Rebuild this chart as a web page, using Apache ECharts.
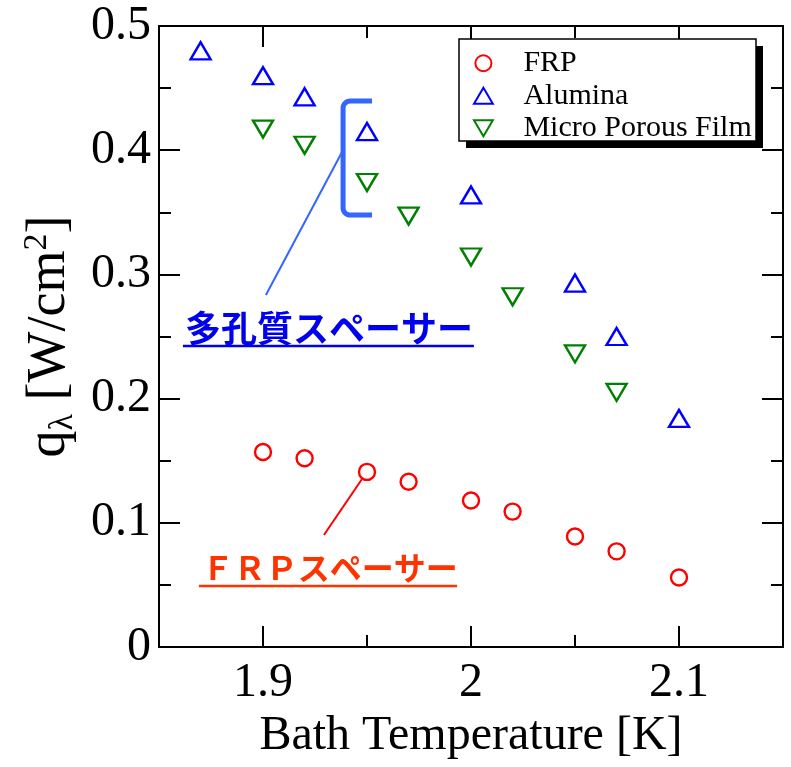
<!DOCTYPE html>
<html><head><meta charset="utf-8">
<script src="https://cdn.jsdelivr.net/npm/echarts@6/dist/echarts.min.js"></script>
<style>html,body{margin:0;padding:0;background:#fff}#c{width:791px;height:767px}</style>
</head><body><div id="c"></div>
<script>
// ---- data ----
const seriesNames = ['FRP', 'Alumina', 'Micro Porous Film'];
const frpT = [1.90, 1.92, 1.95, 1.97, 2.00, 2.02, 2.05, 2.07, 2.10];
const frpQ = [0.157, 0.152, 0.141, 0.133, 0.118, 0.109, 0.089, 0.077, 0.056];
const aluT = [1.87, 1.90, 1.92, 1.95, 2.00, 2.05, 2.07, 2.10];
const aluQ = [0.480, 0.460, 0.443, 0.415, 0.364, 0.293, 0.250, 0.184];
const mpfT = [1.90, 1.92, 1.95, 1.97, 2.00, 2.02, 2.05, 2.07];
const mpfQ = [0.417, 0.404, 0.374, 0.347, 0.314, 0.282, 0.236, 0.205];
const xMajorTicks = [1.9, 2.0, 2.1];
const xMinorTicks = [1.95, 2.05];
const xRange = [1.85, 2.15];
const yRange = [0, 0.5];
const yInterval = 0.1;
// annotation anchors (data coordinates)
const bracketT = [1.9524, 1.9385];
const bracketQ = [0.4396, 0.3478];
const blueLeader = [[1.9380, 0.3986], [1.9014, 0.2834]];
const redLeader = [[1.9293, 0.0902], [1.9476, 0.1353]];
const blueLabel = {text: '多孔質スペーサー', at: [1.8625, 0.2568], line: [1.8615, 2.0014, 0.2424]};
const redLabel = {text: 'ＦＲＰスペーサー', at: [1.8705, 0.0636], line: [1.8692, 1.9933, 0.0491]};

const serif = '"Liberation Serif", "Times New Roman", serif';
const FS = 48;
const black = '#000';
const downTri = 'path://M0,0 L20,0 L10,17 Z';
const upTri = 'path://M10,0 L20,17 L0,17 Z';

function zip(a, b) { return a.map((v, i) => [v, b[i]]); }

function xAxisDef(pos, ticks, len, main) {
  return {
    type: 'value', position: pos, min: xRange[0], max: xRange[1],
    axisLine: {show: main, onZero: false, lineStyle: {color: black, width: 2}},
    axisTick: {show: true, inside: true, length: len, customValues: ticks, lineStyle: {color: black, width: 2}},
    axisLabel: {show: main && pos === 'bottom', customValues: xMajorTicks, margin: 12, color: black,
      fontFamily: serif, fontSize: FS, formatter: v => String(Math.round(v * 10) / 10)},
    splitLine: {show: false},
    name: main && pos === 'bottom' ? 'Bath Temperature [K]' : '',
    nameLocation: 'middle', nameGap: 62,
    nameTextStyle: {fontFamily: serif, fontSize: FS, color: black}
  };
}
function yAxisDef(pos) {
  const left = pos === 'left';
  return {
    type: 'value', position: pos, min: yRange[0], max: yRange[1], interval: yInterval,
    axisLine: {show: true, onZero: false, lineStyle: {color: black, width: 2}},
    axisTick: {show: true, inside: true, length: 21, lineStyle: {color: black, width: 2}},
    minorTick: {show: true, splitNumber: 2, length: 12, lineStyle: {color: black, width: 2}},
    axisLabel: {show: left, margin: 8, color: black, fontFamily: serif, fontSize: FS,
      formatter: v => String(Math.round(v * 10) / 10)},
    splitLine: {show: false},
    name: left ? '{a|q}{s|λ}{a| [W/cm}{p|2}{a|]}' : '',
    nameLocation: 'middle', nameRotate: 90, nameGap: 79,
    nameTextStyle: {fontFamily: serif, fontSize: 54, color: black,
      rich: {
        a: {fontFamily: serif, fontSize: 54, color: black, lineHeight: 60},
        s: {fontFamily: serif, fontSize: 34, color: black, verticalAlign: 'bottom'},
        p: {fontFamily: serif, fontSize: 34, color: black, verticalAlign: 'top'}
      }}
  };
}

const mk = c => ({color: 'rgba(255,255,255,0)', borderColor: c, borderWidth: 2.4, opacity: 1});
const chart = echarts.init(document.getElementById('c'), null, {renderer: 'canvas'});
const option = {
  animation: false,
  backgroundColor: '#fff',
  grid: {left: 159, top: 26, right: 8, bottom: 120, containLabel: false, outerBoundsMode: 'none'},
  xAxis: [
    xAxisDef('bottom', xMajorTicks, 21, true),
    xAxisDef('bottom', xMinorTicks, 12, false),
    xAxisDef('top', xMajorTicks, 21, true),
    xAxisDef('top', xMinorTicks, 12, false)
  ],
  yAxis: [yAxisDef('left'), yAxisDef('right')],
  legend: {
    orient: 'vertical', left: 459, top: 39, z: 20,
    padding: [8, 5, 2, 14], itemGap: 0, itemWidth: 20, itemHeight: 16,
    textStyle: {fontFamily: serif, fontSize: 30, color: black, lineHeight: 32.5, padding: [0, 0, 0, 25]},
    data: seriesNames
  },
  series: [
    {name: seriesNames[0], type: 'scatter', symbol: 'circle', symbolSize: 16,
      itemStyle: mk('#ff0000'), data: zip(frpT, frpQ)},
    {name: seriesNames[1], type: 'scatter', symbol: upTri, symbolSize: [20, 17],
      itemStyle: mk('#0000ff'), data: zip(aluT, aluQ)},
    {name: seriesNames[2], type: 'scatter', symbol: downTri, symbolSize: [20, 17],
      itemStyle: mk('#008000'), data: zip(mpfT, mpfQ)}
  ]
};
chart.setOption(option);

function px(p) { return chart.convertToPixel({xAxisIndex: 0, yAxisIndex: 0}, p); }
const bTR = px([bracketT[0], bracketQ[0]]), bTL = px([bracketT[1], bracketQ[0]]);
const bBL = px([bracketT[1], bracketQ[1]]), bBR = px([bracketT[0], bracketQ[1]]);
const r = 7;
const bracketPts = [bTR];
for (let k = 0; k <= 8; k++) { const a = -Math.PI / 2 - k * Math.PI / 16; bracketPts.push([bTL[0] + r + r * Math.cos(a), bTL[1] + r + r * Math.sin(a)]); }
for (let k = 0; k <= 8; k++) { const a = Math.PI - k * Math.PI / 16; bracketPts.push([bBL[0] + r + r * Math.cos(a), bBL[1] - r + r * Math.sin(a)]); }
bracketPts.push(bBR);
const bl0 = px(blueLeader[0]), bl1 = px(blueLeader[1]);
const rl0 = px(redLeader[0]), rl1 = px(redLeader[1]);
const bt = px(blueLabel.at), btl0 = px([blueLabel.line[0], blueLabel.line[2]]), btl1 = px([blueLabel.line[1], blueLabel.line[2]]);
const rt = px(redLabel.at), rtl0 = px([redLabel.line[0], redLabel.line[2]]), rtl1 = px([redLabel.line[1], redLabel.line[2]]);
const blue = '#3366ff', textBlue = '#0000ee', orange = '#ff3300';
chart.setOption({
  graphic: [
    {type: 'rect', shape: {x: 466, y: 46, width: 297, height: 102}, style: {fill: black}, z: 15},
    {type: 'rect', shape: {x: 459, y: 39, width: 297, height: 102}, style: {fill: '#fff', stroke: black, lineWidth: 1.5}, z: 16},
    {type: 'polyline', shape: {points: bracketPts}, style: {fill: null, stroke: blue, lineWidth: 5, lineJoin: 'round'}, z: 10},
    {type: 'line', shape: {x1: bl0[0], y1: bl0[1], x2: bl1[0], y2: bl1[1]}, style: {stroke: blue, lineWidth: 2}, z: 10},
    {type: 'line', shape: {x1: rl0[0], y1: rl0[1], x2: rl1[0], y2: rl1[1]}, style: {stroke: '#ff0000', lineWidth: 2}, z: 10},
    {type: 'text', x: bt[0], y: bt[1], style: {text: blueLabel.text, fill: textBlue, font: 'bold 36px "Noto Sans CJK JP"', verticalAlign: 'middle'}, z: 10},
    {type: 'line', shape: {x1: btl0[0], y1: btl0[1], x2: btl1[0], y2: btl1[1]}, style: {stroke: textBlue, lineWidth: 2.5}, z: 10},
    {type: 'text', x: rt[0], y: rt[1], style: {text: redLabel.text, fill: orange, font: 'bold 32px "Noto Sans CJK JP"', verticalAlign: 'middle'}, z: 10},
    {type: 'line', shape: {x1: rtl0[0], y1: rtl0[1], x2: rtl1[0], y2: rtl1[1]}, style: {stroke: orange, lineWidth: 2.5}, z: 10}
  ]
});
</script></body></html>
